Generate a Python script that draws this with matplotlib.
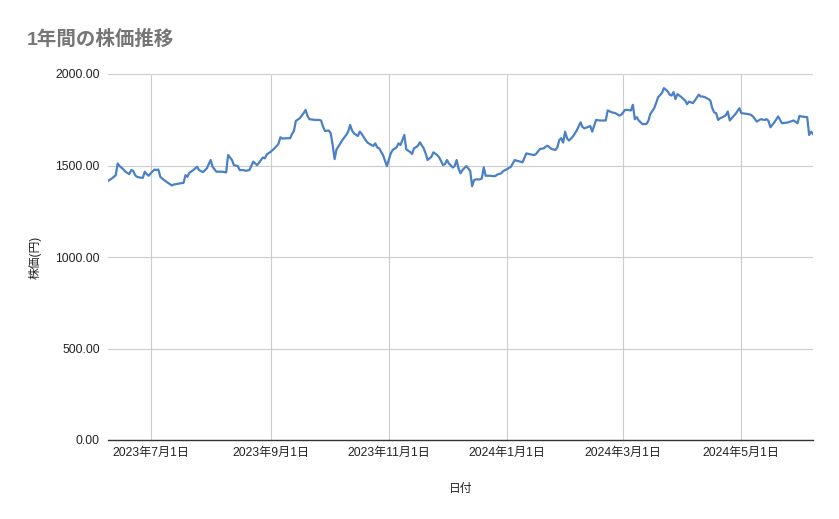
import matplotlib
matplotlib.use("Agg")
import matplotlib.pyplot as plt
import pandas as pd

plt.rcParams["font.family"] = ["Liberation Sans", "Noto Sans CJK JP", "DejaVu Sans"]

# daily closing prices (yen)
dates = [
    "2023-06-09", "2023-06-11", "2023-06-13", "2023-06-14", "2023-06-15", "2023-06-17",
    "2023-06-18", "2023-06-20", "2023-06-21", "2023-06-22", "2023-06-23", "2023-06-24",
    "2023-06-26", "2023-06-27", "2023-06-28", "2023-06-29", "2023-06-30", "2023-07-01",
    "2023-07-03", "2023-07-04", "2023-07-05", "2023-07-06", "2023-07-08", "2023-07-10",
    "2023-07-12", "2023-07-13", "2023-07-16", "2023-07-18", "2023-07-19", "2023-07-20",
    "2023-07-21", "2023-07-23", "2023-07-25", "2023-07-26", "2023-07-28", "2023-07-30",
    "2023-08-01", "2023-08-02", "2023-08-04", "2023-08-07", "2023-08-09", "2023-08-10",
    "2023-08-12", "2023-08-13", "2023-08-15", "2023-08-16", "2023-08-18", "2023-08-19",
    "2023-08-21", "2023-08-23", "2023-08-24", "2023-08-25", "2023-08-27", "2023-08-28",
    "2023-08-29", "2023-08-30", "2023-09-01", "2023-09-03", "2023-09-05", "2023-09-06",
    "2023-09-07", "2023-09-09", "2023-09-11", "2023-09-12", "2023-09-13", "2023-09-14",
    "2023-09-16", "2023-09-18", "2023-09-19", "2023-09-20", "2023-09-21", "2023-09-24",
    "2023-09-26", "2023-09-27", "2023-09-28", "2023-09-29", "2023-10-01", "2023-10-02",
    "2023-10-03", "2023-10-04", "2023-10-05", "2023-10-07", "2023-10-08", "2023-10-10",
    "2023-10-11", "2023-10-12", "2023-10-13", "2023-10-14", "2023-10-16", "2023-10-17",
    "2023-10-18", "2023-10-20", "2023-10-21", "2023-10-23", "2023-10-24", "2023-10-25",
    "2023-10-26", "2023-10-27", "2023-10-29", "2023-10-31", "2023-11-02", "2023-11-03",
    "2023-11-05", "2023-11-06", "2023-11-07", "2023-11-08", "2023-11-09", "2023-11-10",
    "2023-11-12", "2023-11-13", "2023-11-14", "2023-11-16", "2023-11-17", "2023-11-19",
    "2023-11-20", "2023-11-21", "2023-11-23", "2023-11-24", "2023-11-26", "2023-11-27",
    "2023-11-29", "2023-11-30", "2023-12-01", "2023-12-02", "2023-12-04", "2023-12-05",
    "2023-12-06", "2023-12-07", "2023-12-08", "2023-12-09", "2023-12-11", "2023-12-13",
    "2023-12-14", "2023-12-15", "2023-12-16", "2023-12-18", "2023-12-19", "2023-12-20",
    "2023-12-21", "2023-12-23", "2023-12-25", "2023-12-26", "2023-12-27", "2023-12-29",
    "2023-12-30", "2024-01-01", "2024-01-03", "2024-01-05", "2024-01-06", "2024-01-08",
    "2024-01-09", "2024-01-11", "2024-01-13", "2024-01-15", "2024-01-16", "2024-01-18",
    "2024-01-20", "2024-01-21", "2024-01-22", "2024-01-24", "2024-01-26", "2024-01-27",
    "2024-01-28", "2024-01-29", "2024-01-30", "2024-01-31", "2024-02-01", "2024-02-02",
    "2024-02-04", "2024-02-06", "2024-02-08", "2024-02-09", "2024-02-10", "2024-02-11",
    "2024-02-13", "2024-02-14", "2024-02-16", "2024-02-18", "2024-02-21", "2024-02-22",
    "2024-02-24", "2024-02-26", "2024-02-28", "2024-02-29", "2024-03-02", "2024-03-03",
    "2024-03-05", "2024-03-06", "2024-03-07", "2024-03-08", "2024-03-09", "2024-03-11",
    "2024-03-13", "2024-03-14", "2024-03-15", "2024-03-17", "2024-03-18", "2024-03-19",
    "2024-03-21", "2024-03-22", "2024-03-24", "2024-03-25", "2024-03-26", "2024-03-27",
    "2024-03-28", "2024-03-29", "2024-03-31", "2024-04-02", "2024-04-03", "2024-04-04",
    "2024-04-06", "2024-04-07", "2024-04-09", "2024-04-10", "2024-04-11", "2024-04-12",
    "2024-04-14", "2024-04-15", "2024-04-16", "2024-04-17", "2024-04-18", "2024-04-19",
    "2024-04-20", "2024-04-22", "2024-04-23", "2024-04-24", "2024-04-25", "2024-04-26",
    "2024-04-28", "2024-04-30", "2024-05-01", "2024-05-04", "2024-05-06", "2024-05-07",
    "2024-05-09", "2024-05-11", "2024-05-13", "2024-05-14", "2024-05-15", "2024-05-16",
    "2024-05-18", "2024-05-20", "2024-05-22", "2024-05-25", "2024-05-28", "2024-05-30",
    "2024-05-31", "2024-06-01", "2024-06-04", "2024-06-05", "2024-06-06", "2024-06-07",
]
prices = [
    1416, 1429, 1447, 1511, 1497, 1478,
    1466, 1453, 1475, 1471, 1447, 1438,
    1433, 1433, 1466, 1453, 1444, 1457,
    1478, 1475, 1478, 1438, 1420, 1405,
    1391, 1396, 1402, 1405, 1447, 1438,
    1460, 1475, 1493, 1475, 1464, 1484,
    1530, 1493, 1466, 1466, 1462, 1557,
    1530, 1502, 1497, 1475, 1475, 1471,
    1475, 1521, 1511, 1502, 1530, 1544,
    1539, 1561, 1575, 1594, 1618, 1654,
    1647, 1649, 1649, 1672, 1689, 1744,
    1758, 1786, 1804, 1771, 1753, 1749,
    1749, 1746, 1713, 1689, 1691, 1676,
    1612, 1535, 1588, 1621, 1639, 1667,
    1685, 1722, 1691, 1676, 1661, 1685,
    1672, 1639, 1625, 1612, 1607, 1621,
    1599, 1594, 1557, 1497, 1566, 1585,
    1599, 1621, 1612, 1640, 1667, 1588,
    1574, 1563, 1594, 1607, 1627, 1594,
    1566, 1530, 1548, 1572, 1557, 1544,
    1502, 1508, 1530, 1511, 1489, 1497,
    1530, 1484, 1457, 1475, 1497, 1471,
    1387, 1420, 1424, 1424, 1429, 1490,
    1444, 1444, 1442, 1442, 1451, 1457,
    1469, 1480, 1493, 1530, 1526, 1521,
    1517, 1566, 1561, 1557, 1563, 1590,
    1594, 1603, 1608, 1590, 1585, 1599,
    1639, 1649, 1625, 1685, 1649, 1636,
    1658, 1691, 1736, 1710, 1703, 1707,
    1716, 1685, 1749, 1746, 1746, 1801,
    1791, 1786, 1773, 1777, 1804, 1804,
    1801, 1832, 1753, 1764, 1746, 1726,
    1727, 1744, 1782, 1813, 1841, 1872,
    1896, 1923, 1905, 1887, 1882, 1901,
    1863, 1890, 1874, 1855, 1835, 1849,
    1841, 1855, 1887, 1877, 1877, 1874,
    1863, 1855, 1813, 1790, 1786, 1749,
    1758, 1768, 1775, 1795, 1746, 1758,
    1782, 1813, 1786, 1782, 1777, 1768,
    1740, 1753, 1749, 1753, 1744, 1709,
    1735, 1768, 1731, 1735, 1746, 1731,
    1771, 1768, 1764, 1667, 1685, 1672,
]

tick_dates = ["2023-07-01", "2023-09-01", "2023-11-01",
              "2024-01-01", "2024-03-01", "2024-05-01"]
tick_labels = ["2023年7月1日", "2023年9月1日", "2023年11月1日",
               "2024年1月1日", "2024年3月1日", "2024年5月1日"]
y_ticks = [0, 500, 1000, 1500, 2000]

x = pd.to_datetime(dates)

fig = plt.figure(figsize=(8.39, 5.19), dpi=100)
ax = fig.add_axes([108 / 839, 1 - 440 / 519, 705 / 839, 366 / 519])

ax.plot(x, prices, color="#4a80c6", linewidth=1.6, solid_joinstyle="round")

ax.set_xlim(x[0], x[-1])
ax.set_ylim(0, 2000)
ax.set_yticks(y_ticks)
ax.set_yticklabels([f"{v:.2f}" for v in y_ticks])
ax.set_xticks(pd.to_datetime(tick_dates))
ax.set_xticklabels(tick_labels)

ax.grid(True, color="#cccccc", linewidth=0.8)
ax.set_axisbelow(True)
for side in ["top", "right", "left"]:
    ax.spines[side].set_visible(False)
ax.spines["bottom"].set_color("#333333")
ax.spines["bottom"].set_linewidth(1.0)
ax.tick_params(length=0, labelsize=8.7, colors="#222222")
ax.tick_params(axis="y", pad=6)
ax.tick_params(axis="x", pad=5)

ax.set_ylabel("株価(円)", fontsize=8.5, color="#222222", labelpad=10)
ax.set_xlabel("日付", fontsize=8.5, color="#222222", labelpad=17)
fig.text(27 / 839, 1 - 39 / 519, "1年間の株価推移", fontsize=14, color="#757575",
         fontweight="bold", va="center", ha="left")

fig.savefig("out.png", dpi=100)
